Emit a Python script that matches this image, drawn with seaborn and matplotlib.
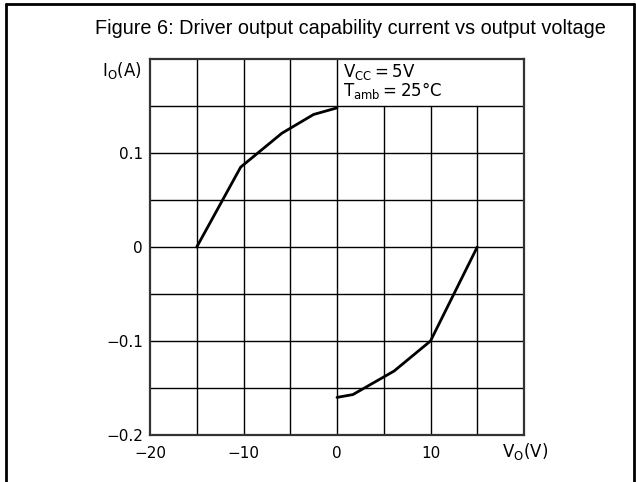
import matplotlib
matplotlib.use('Agg')
import matplotlib.pyplot as plt
import seaborn as sns
import pandas as pd
from matplotlib.lines import Line2D

# ─── Data ──────────────────────────────────────────────
v_pos = [-15, -10.3, -5.9, -2.5, 0]          # source branch, V_O (V)
i_pos = [0.0, 0.085, 0.121, 0.141, 0.148]    # I_O (A)
v_neg = [0, 1.7, 6.1, 10, 12.5, 15]          # sink branch
i_neg = [-0.160, -0.157, -0.132, -0.100, -0.050, 0.0]

x_ticks = [-20, -10, 0, 10]
x_labels = ['\u221220', '\u221210', '0', '10']
y_ticks = [-0.2, -0.1, 0, 0.1]
y_labels = ['\u22120.2', '\u22120.1', '0', '0.1']

df_pos = pd.DataFrame({'V': v_pos, 'I': i_pos})
df_neg = pd.DataFrame({'V': v_neg, 'I': i_neg})

sns.set_style('white')
plt.rcParams['font.family'] = ['DejaVu Sans']
plt.rcParams['mathtext.fontset'] = 'dejavusans'
plt.rcParams['text.color'] = 'black'
plt.rcParams['xtick.color'] = 'black'
plt.rcParams['ytick.color'] = 'black'

fig = plt.figure(figsize=(6.36, 4.82), dpi=100)
ax = fig.add_axes([150 / 636, 1 - 435 / 482, 374 / 636, 376 / 482])

# grid, leaving the top-right cell free for the conditions box
for x in range(-15, 20, 5):
    top = 0.2 if x <= 0 else 0.15
    ax.plot([x, x], [-0.2, top], color='black', lw=1.0, zorder=1)
for y in [-0.15, -0.1, -0.05, 0, 0.05, 0.1, 0.15]:
    ax.plot([-20, 20], [y, y], color='black', lw=1.0, zorder=1)

sns.lineplot(data=df_pos, x='V', y='I', sort=False, color='black', lw=2, ax=ax, zorder=3)
sns.lineplot(data=df_neg, x='V', y='I', sort=False, color='black', lw=2, ax=ax, zorder=3)

ax.set_xlim(-20, 20)
ax.set_ylim(-0.2, 0.2)
ax.set_xticks(x_ticks)
ax.set_xticklabels(x_labels, fontsize=11)
ax.set_yticks(y_ticks)
ax.set_yticklabels(y_labels, fontsize=11)
ax.tick_params(axis='x', length=0, pad=8)
ax.tick_params(axis='y', length=0, pad=5)
ax.set_xlabel('')
ax.set_ylabel('')
for s in ax.spines.values():
    s.set_color('#333333')
    s.set_linewidth(1.6)

ax.text(20.1, -0.2 - 0.018, r'$\mathregular{V_O(V)}$', ha='center', va='center', fontsize=12)
ax.text(-20.9, 0.188, r'$\mathregular{I_O(A)}$', ha='right', va='center', fontsize=12)
ax.text(0.6, 0.186, r'$\mathregular{V_{CC}=5V}$', ha='left', va='center', fontsize=12)
ax.text(0.6, 0.166, r'$\mathregular{T_{amb}=25°C}$', ha='left', va='center', fontsize=12)

fig.text(350 / 636, 1 - 28 / 482, 'Figure 6: Driver output capability current vs output voltage',
         ha='center', va='center', fontsize=14.3, family='Liberation Sans')

# outer frame (top, left, right)
fig.add_artist(Line2D([6 / 636, 6 / 636], [0, 1 - 4 / 482], transform=fig.transFigure, color='black', lw=2))
fig.add_artist(Line2D([634 / 636, 634 / 636], [0, 1 - 4 / 482], transform=fig.transFigure, color='black', lw=2))
fig.add_artist(Line2D([6 / 636, 634 / 636], [1 - 4 / 482, 1 - 4 / 482], transform=fig.transFigure, color='black', lw=2))

fig.savefig('out.png', dpi=100)
